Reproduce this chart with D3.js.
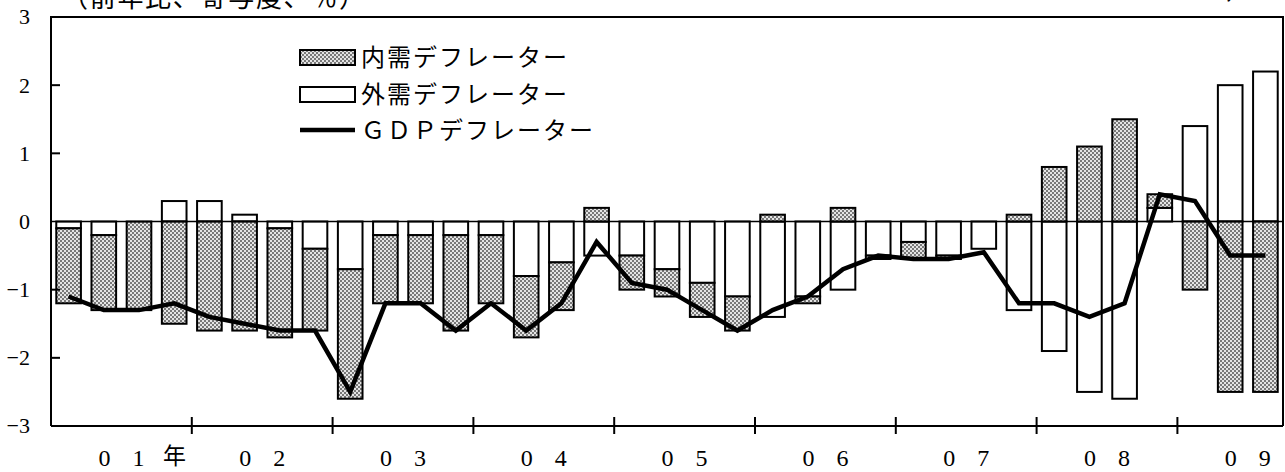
<!DOCTYPE html>
<html>
<head>
<meta charset="utf-8">
<script src="https://cdn.jsdelivr.net/npm/d3@7"></script>
<style>
  html, body { margin: 0; padding: 0; background: #fff; }
  svg { display: block; }
</style>
</head>
<body>
<svg id="chart" width="1285" height="472"></svg>
<script>
// Quarterly periods, 2001 Q1 – 2009 Q3
const quarters = [
  "01Q1","01Q2","01Q3","01Q4","02Q1","02Q2","02Q3","02Q4",
  "03Q1","03Q2","03Q3","03Q4","04Q1","04Q2","04Q3","04Q4",
  "05Q1","05Q2","05Q3","05Q4","06Q1","06Q2","06Q3","06Q4",
  "07Q1","07Q2","07Q3","07Q4","08Q1","08Q2","08Q3","08Q4",
  "09Q1","09Q2","09Q3"
];
// Contribution of the domestic demand deflator (% points, y/y)
const domestic = [
  -1.1, -1.1, -1.3, -1.5, -1.6, -1.6, -1.6, -1.2,
  -1.9, -1.0, -1.0, -1.4, -1.0, -0.9, -0.7,  0.2,
  -0.5, -0.4, -0.5, -0.5,  0.1, -0.1,  0.2, -0.05,
  -0.25, -0.05, 0.0,  0.1,  0.8,  1.1,  1.5,  0.2,
  -1.0, -2.5, -2.5
];
// Contribution of the external demand deflator (% points, y/y)
const external = [
  -0.1, -0.2,  0.0,  0.3,  0.3,  0.1, -0.1, -0.4,
  -0.7, -0.2, -0.2, -0.2, -0.2, -0.8, -0.6, -0.5,
  -0.5, -0.7, -0.9, -1.1, -1.4, -1.1, -1.0, -0.5,
  -0.3, -0.5, -0.4, -1.3, -1.9, -2.5, -2.6,  0.2,
   1.4,  2.0,  2.2
];
// GDP deflator (% y/y)
const gdp = [
  -1.1, -1.3, -1.3, -1.2, -1.4, -1.5, -1.6, -1.6,
  -2.5, -1.2, -1.2, -1.6, -1.2, -1.6, -1.2, -0.3,
  -0.9, -1.0, -1.3, -1.6, -1.3, -1.1, -0.7, -0.5,
  -0.55, -0.55, -0.45, -1.2, -1.2, -1.4, -1.2, 0.4,
   0.3, -0.5, -0.5
];
const yTicks = [3, 2, 1, 0, -1, -2, -3];
const yearLabels = ["01", "02", "03", "04", "05", "06", "07", "08", "09"];
const legendLabels = ["内需デフレーター", "外需デフレーター", "ＧＤＰデフレーター"];
const unitNote = "（前年比、寄与度、％）";

const svg = d3.select("#chart");
const plot = { left: 51, right: 1283, top: 17, bottom: 426 };
const serif = "'Liberation Serif', 'DejaVu Serif', serif";
const jp = "'Noto Sans CJK JP', 'Noto Sans', sans-serif";

// Dotted fill used for the domestic-demand bars
const defs = svg.append("defs");
const pat = defs.append("pattern")
  .attr("id", "dots").attr("patternUnits", "userSpaceOnUse")
  .attr("width", 4).attr("height", 4);
pat.append("rect").attr("width", 4).attr("height", 4).attr("fill", "#e4e4e4");
pat.append("circle").attr("cx", 1).attr("cy", 1).attr("r", 0.95).attr("fill", "#4a4a4a");
pat.append("circle").attr("cx", 3).attr("cy", 3).attr("r", 0.95).attr("fill", "#4a4a4a");

const x = d3.scaleBand().domain(quarters)
  .range([plot.left, plot.right]).paddingInner(0.3).paddingOuter(0.15);
const y = d3.scaleLinear().domain([-3, 3]).range([plot.bottom, plot.top]);

// Stack: external contribution sits next to zero, domestic stacked beyond it
const rows = quarters.map((q, i) => ({ q, ext: external[i], dom: domestic[i] }));
const stack = d3.stack().keys(["ext", "dom"]).offset(d3.stackOffsetDiverging)(rows);

const fills = { ext: "#ffffff", dom: "url(#dots)" };
stack.forEach(layer => {
  svg.append("g").selectAll("rect").data(layer).join("rect")
    .attr("x", d => x(d.data.q))
    .attr("width", x.bandwidth())
    .attr("y", d => y(Math.max(d[0], d[1])))
    .attr("height", d => Math.abs(y(d[0]) - y(d[1])))
    .attr("fill", fills[layer.key])
    .attr("stroke", "#000").attr("stroke-width", 2);
});

// Zero line
svg.append("line")
  .attr("x1", plot.left).attr("x2", plot.right)
  .attr("y1", y(0)).attr("y2", y(0))
  .attr("stroke", "#000").attr("stroke-width", 1.6);

// GDP deflator line
const line = d3.line()
  .x((d, i) => x(quarters[i]) + x.bandwidth() / 2)
  .y(d => y(d));
svg.append("path").datum(gdp)
  .attr("d", line).attr("fill", "none")
  .attr("stroke", "#000").attr("stroke-width", 4.5)
  .attr("stroke-linejoin", "miter");

// Frame
svg.append("path")
  .attr("d", `M${plot.left},${plot.bottom}V${plot.top}H${plot.right}V${plot.bottom}`)
  .attr("fill", "none").attr("stroke", "#000").attr("stroke-width", 2);
svg.append("line")
  .attr("x1", plot.left).attr("x2", plot.right)
  .attr("y1", plot.bottom).attr("y2", plot.bottom)
  .attr("stroke", "#000").attr("stroke-width", 2);

// Y axis ticks (inward) and labels
svg.append("g").selectAll("line").data(yTicks.filter(v => v !== 3 && v !== -3 && v !== 0)).join("line")
  .attr("x1", plot.left).attr("x2", plot.left + 9)
  .attr("y1", d => y(d)).attr("y2", d => y(d))
  .attr("stroke", "#000").attr("stroke-width", 2);
svg.append("g").selectAll("text").data(yTicks).join("text")
  .attr("x", 30).attr("y", d => y(d))
  .attr("dy", "0.34em")
  .attr("text-anchor", "end")
  .attr("font-family", serif).attr("font-size", 22)
  .text(d => d < 0 ? "−" + Math.abs(d) : String(d));

// Year boundaries on the time axis
const step = x.step();
const yearStart = k => x(quarters[4 * k]) - step * x.paddingInner() / 2;
const boundaries = d3.range(1, yearLabels.length);
svg.append("g").selectAll("line").data(boundaries).join("line")
  .attr("x1", k => yearStart(k)).attr("x2", k => yearStart(k))
  .attr("y1", plot.bottom - 9).attr("y2", plot.bottom + 8)
  .attr("stroke", "#000").attr("stroke-width", 2);

// Year labels: two spaced digits centred on each year
const yearG = svg.append("g");
yearLabels.forEach((lab, k) => {
  const cx = yearStart(0) + (k * 4 + 2) * step;
  const chars = lab.split("");
  chars.forEach((c, j) => {
    yearG.append("text")
      .attr("x", cx + (j - 0.5) * 34).attr("y", 466)
      .attr("text-anchor", "middle")
      .attr("font-family", serif).attr("font-size", 24)
      .text(c);
  });
  if (k === 0) {
    yearG.append("text")
      .attr("x", cx + 1.5 * 34 + 2).attr("y", 464)
      .attr("text-anchor", "middle")
      .attr("font-family", jp).attr("font-size", 23)
      .text("年");
  }
});

// Unit note along the top edge
svg.append("text")
  .attr("x", 62).attr("y", 7)
  .attr("font-family", jp).attr("font-size", 26)
  .attr("letter-spacing", 1.7)
  .text(unitNote);
svg.append("text")
  .attr("x", 1226).attr("y", -1)
  .attr("font-family", jp).attr("font-size", 26)
  .text("）");

// Legend
const lg = svg.append("g");
const lx = 300, lw = 55;
const rowsY = [57.5, 94.5, 130];
lg.append("rect").attr("x", lx).attr("y", rowsY[0] - 7.5).attr("width", lw).attr("height", 15)
  .attr("fill", "url(#dots)").attr("stroke", "#000").attr("stroke-width", 2);
lg.append("rect").attr("x", lx).attr("y", rowsY[1] - 7.5).attr("width", lw).attr("height", 15)
  .attr("fill", "#fff").attr("stroke", "#000").attr("stroke-width", 2);
lg.append("line").attr("x1", lx).attr("x2", lx + lw).attr("y1", rowsY[2]).attr("y2", rowsY[2])
  .attr("stroke", "#000").attr("stroke-width", 4.5);
lg.selectAll("text").data(legendLabels).join("text")
  .attr("x", lx + lw + 6).attr("y", (d, i) => rowsY[i])
  .attr("dy", "0.36em")
  .attr("font-family", jp).attr("font-size", 24)
  .attr("letter-spacing", 2)
  .text(d => d);
</script>
</body>
</html>
